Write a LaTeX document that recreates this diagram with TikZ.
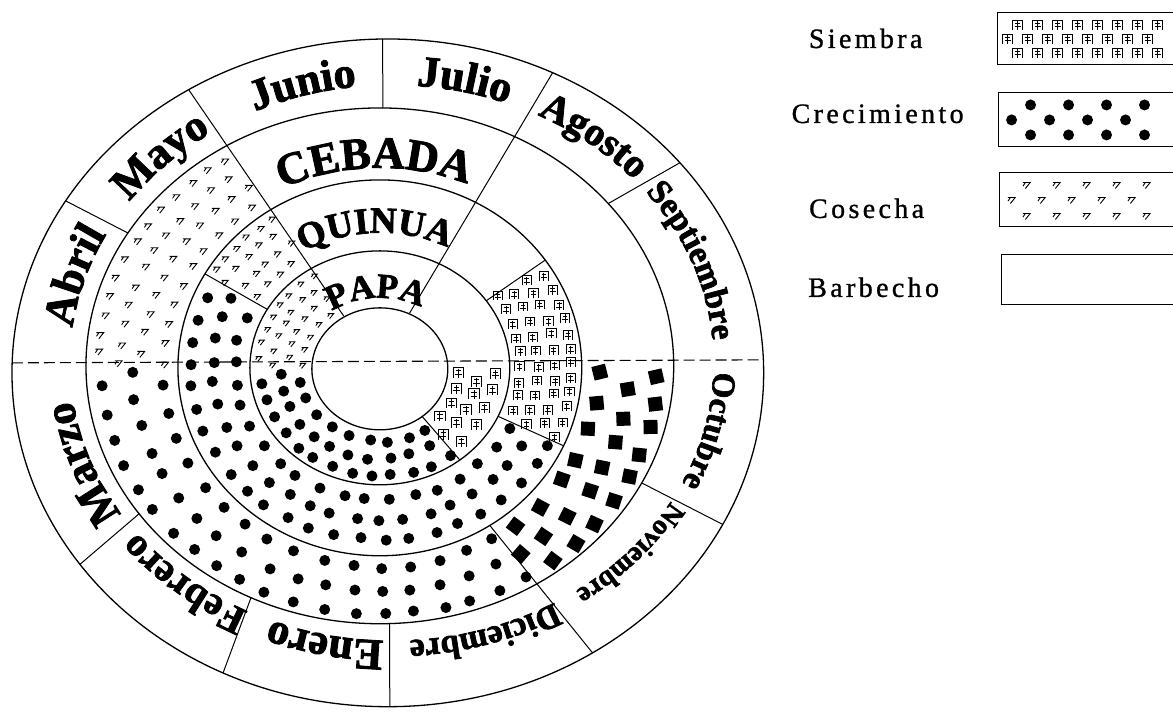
\documentclass[tikz,border=0pt]{standalone}
\usepackage{fontspec}
\setmainfont{Liberation Serif}
\newfontfamily\wheelfont[FakeBold=2]{Liberation Serif Bold}
\newfontfamily\legendfont[LetterSpace=12, FakeBold=1]{Liberation Serif}
\usetikzlibrary{decorations.text}

\tikzset{
  ring/.style={line width=1.3pt},
  spoke/.style={line width=1pt},
  midline/.style={line width=1.1pt, dash pattern=on 11pt off 5pt},
  legendbox/.style={line width=1pt},
  legendlabel/.style={font=\legendfont\fontsize{28}{28}\selectfont, anchor=base, inner sep=0pt},
  growdot/.pic={\fill (0,0) circle[radius=5.5pt];},
  seedmark/.pic={\draw[line width=0.9pt] (-4,-4) -- (-4,4) -- (4,4) -- (4,-4)
      (-2,1.5) -- (2,1.5) (0,3) -- (0,-4) (-2.5,-1.5) -- (2.5,-1.5);},
  darkmark/.pic={\fill (-7,-7) rectangle (7,7);},
  harvestmark/.pic={\draw[line width=0.9pt] (-3,2) -- (3,2) -- (-1,-3) (-1,2) -- (-3,-1);},
}

% marks spread over a ring sector: pic, radii, from, to, spacing, pic options
\newcommand{\strew}[6]{%
  \foreach \rr [count=\rowno] in {#2}{%
    \pgfmathtruncatemacro{\nmarks}{max(1,round((#4-#3)/57.3*\rr/#5))}%
    \pgfmathsetmacro{\dang}{(#4-#3)/\nmarks}%
    \foreach \km in {1,...,\nmarks}{%
      \pgfmathsetmacro{\ang}{#3+(\km-0.75+0.5*mod(\rowno,2))*\dang+0.12*\dang*rand}%
      \pgfmathsetmacro{\rj}{\rr+1.5*rand}%
      \pgfmathsetmacro{\ry}{ifthenelse(\rj<202,0.91*\rj,188+(\rj-202)*0.761)}%
      \pic[#6] at (\ang:\rj pt and \ry pt) {#1};%
    }%
  }%
}

% curved label: shift, mid angle, half span, x radius, y radius, size, text
\newcommand{\arctext}[7]{%
  \path[decorate, decoration={text along path, text align=center,
      text={|\wheelfont\fontsize{#6}{#6}\selectfont|#7}}]
    ([shift={#1}]#2+#3:#4pt and #5pt) arc[start angle=#2+#3, end angle=#2-#3, x radius=#4pt, y radius=#5pt];%
}

\begin{document}
\begin{tikzpicture}[x=1pt, y=1pt, line width=1pt]
  \pgfmathsetseed{7}
  \fill[white] (-380,-344) rectangle (793,368);

  % cebada
  \strew{harvestmark}{216,238,260,282}{122}{180}{22}{scale=1.2}
  \strew{growdot}{218,248,278}{180}{303}{30}{}
  \strew{darkmark}{220,250,278}{303}{360}{31}{rotate=\ang+15}
  % quinua
  \strew{harvestmark}{144,162,180,195}{122}{150}{16}{scale=1.1}
  \strew{growdot}{145,167,189}{150}{335.5}{25}{}
  \strew{seedmark}{141,158,175,192}{335.5}{395}{17}{scale=1.15}
  % papa
  \strew{harvestmark}{77,92,107,121}{122}{180}{15}{}
  \strew{growdot}{81,100,119}{180}{308}{21}{}
  \strew{seedmark}{80,97,115}{308}{360}{19}{scale=1.3}

  % rings
  \draw[ring] (0,-1) ellipse[x radius=68, y radius=61];
  \draw[ring] (0,0) ellipse[x radius=130, y radius=117];
  \draw[ring] (0,0) ellipse[x radius=202, y radius=188];
  \draw[ring] (0,2) ellipse[x radius=294, y radius=258];
  \draw[ring] (8,-5) ellipse[x radius=376, y radius=334];

  % month borders and sector borders
  \foreach \a/\b in {39/39, 89.4/90.8, 149/149, 215/215, 244/244, 271.9/270.3, 333/333}
    \draw[spoke] ([yshift=2pt]\a:294pt and 258pt) -- ([shift={(8,-5)}]\b:376pt and 334pt);
  \foreach \a in {64,122}
    \draw[spoke] (\a:68pt and 61pt) -- ([shift={(8,-5)}]\a:376pt and 334pt);
  \draw[spoke] (303:202pt and 188pt) -- ([shift={(8,-5)}]303:376pt and 334pt);
  \foreach \a in {35,150,335.5}
    \draw[spoke] (\a:130pt and 117pt) -- (\a:202pt and 188pt);
  \draw[spoke] (308:68pt and 61pt) -- (308:130pt and 117pt);

  \coordinate (west) at (-368,5);
  \coordinate (east) at (384,8);
  \draw[midline] (west) -- (east);

  % crops
  \arctext{(0,0)}{91.5}{45}{222}{200}{45}{CEBADA}
  \arctext{(0,0)}{92}{45}{150}{135}{37}{QUINUA}
  \arctext{(0,0)}{93}{55}{82}{70}{35}{PAPA}

  % months
  \arctext{(12,5)}{77}{25}{322}{278}{44}{Julio}
  \arctext{(12,5)}{106}{25}{322}{278}{44}{Junio}
  \arctext{(12,5)}{135}{25}{322}{278}{44}{Mayo}
  \arctext{(12,5)}{163}{25}{322}{278}{44}{Abril}
  \arctext{(12,5)}{200}{25}{322}{278}{44}{Marzo}
  \arctext{(12,5)}{230}{25}{322}{278}{40}{Febrero}
  \arctext{(12,5)}{258}{25}{322}{278}{44}{Enero}
  \arctext{(12,5)}{287}{25}{322}{278}{34}{Diciembre}
  \arctext{(12,5)}{318}{25}{322}{278}{28}{Noviembre}
  \arctext{(12,5)}{346.5}{25}{322}{278}{33}{Octubre}
  \arctext{(12,5)}{21}{25}{322}{278}{34}{Septiembre}
  \arctext{(12,5)}{51.5}{25}{322}{278}{40}{Agosto}

  % legend
  \node[legendlabel] (siembra) at (486,320) {Siembra};
  \node[legendlabel] (crecimiento) at (498,245) {Crecimiento};
  \node[legendlabel] (cosecha) at (487,150) {Cosecha};
  \node[legendlabel] (barbecho) at (494,71) {Barbecho};

  \draw[legendbox] (793,355) -| (618,303) -- (793,303);
  \draw[legendbox] (793,275) -| (619,221) -- (793,221);
  \draw[legendbox] (793,195) -| (620,141) -- (793,141);
  \draw[legendbox] (793,113) -| (622,63) -- (793,63);

  \foreach \y [count=\j] in {343,329,315}
    \foreach \x in {628,648,...,768}
      \pic[scale=1.2] at ({\x+mod(\j,2)*10}, \y) {seedmark};
  \foreach \y [count=\j] in {263,248,233}
    \foreach \x in {632,670,...,770}
      \pic at ({\x+mod(\j,2)*19}, \y) {growdot};
  \foreach \y [count=\j] in {183,168,152}
    \foreach \x in {632,662,...,775}
      \pic[scale=1.2] at ({\x+mod(\j,2)*15}, \y) {harvestmark};
\end{tikzpicture}
\end{document}
